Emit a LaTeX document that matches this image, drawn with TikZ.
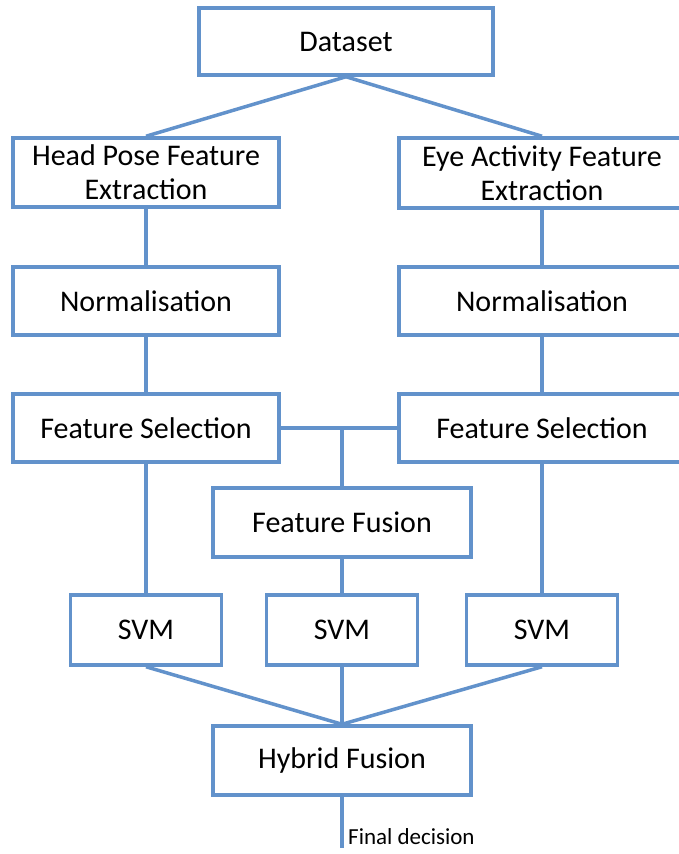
\documentclass[tikz,border=0pt]{standalone}
\usepackage{fontspec}
\setmainfont{Carlito}
\definecolor{boxblue}{RGB}{98,146,203}
\begin{document}
\begin{tikzpicture}[x=1pt,y=-1pt,
  box/.style={draw=boxblue,line width=3.5pt,fill=white,inner sep=0pt,align=center,
    font=\fontsize{30}{34}\selectfont},
  link/.style={draw=boxblue,line width=3.5pt}]
\clip (0,0) rectangle (679,854);
\useasboundingbox (0,0) rectangle (679,854);
% nodes
\node[box,minimum width=294pt,minimum height=67pt] (ds) at (346,41.5) {Dataset};
\node[box,minimum width=266pt,minimum height=69pt] (hp) at (146,172.5) {Head Pose Feature\\Extraction};
\node[box,minimum width=286pt,minimum height=70pt] (ea) at (542,173) {Eye Activity Feature\\Extraction};
\node[box,minimum width=266pt,minimum height=68pt] (nl) at (146,301) {Normalisation};
\node[box,minimum width=286pt,minimum height=68pt] (nr) at (542,301) {Normalisation};
\node[box,minimum width=266pt,minimum height=68pt] (fsl) at (146,428) {Feature Selection};
\node[box,minimum width=286pt,minimum height=68pt] (fsr) at (542,428) {Feature Selection};
\node[box,minimum width=258pt,minimum height=69pt] (ff) at (342,522.5) {Feature Fusion};
\node[box,minimum width=151pt,minimum height=70pt] (svl) at (146,630) {SVM};
\node[box,minimum width=151pt,minimum height=70pt] (svm) at (342,630) {SVM};
\node[box,minimum width=151pt,minimum height=70pt] (svr) at (542,630) {SVM};
\node[box,minimum width=258pt,minimum height=69pt] (hy) at (342,760.5) {Hybrid Fusion};
\coordinate (fd) at (342,848);
\node[anchor=west,inner sep=0pt,font=\fontsize{23}{26}\selectfont] (fdt) at (348,837) {Final decision};
% connectors
\draw[link] (ds.south) -- (hp.north);
\draw[link] (ds.south) -- (ea.north);
\draw[link] (hp.south) -- (nl.north);
\draw[link] (ea.south) -- (nr.north);
\draw[link] (nl.south) -- (fsl.north);
\draw[link] (nr.south) -- (fsr.north);
\draw[link] (fsl.east) -- (fsr.west);
\draw[link] (ff.north |- fsl.east) -- (ff.north);
\draw[link] (fsl.south) -- (svl.north);
\draw[link] (fsr.south) -- (svr.north);
\draw[link] (ff.south) -- (svm.north);
\draw[link] (svl.south) -- (hy.north);
\draw[link] (svm.south) -- (hy.north);
\draw[link] (svr.south) -- (hy.north);
\draw[link] (hy.south) -- (fd);
\end{tikzpicture}
\end{document}
